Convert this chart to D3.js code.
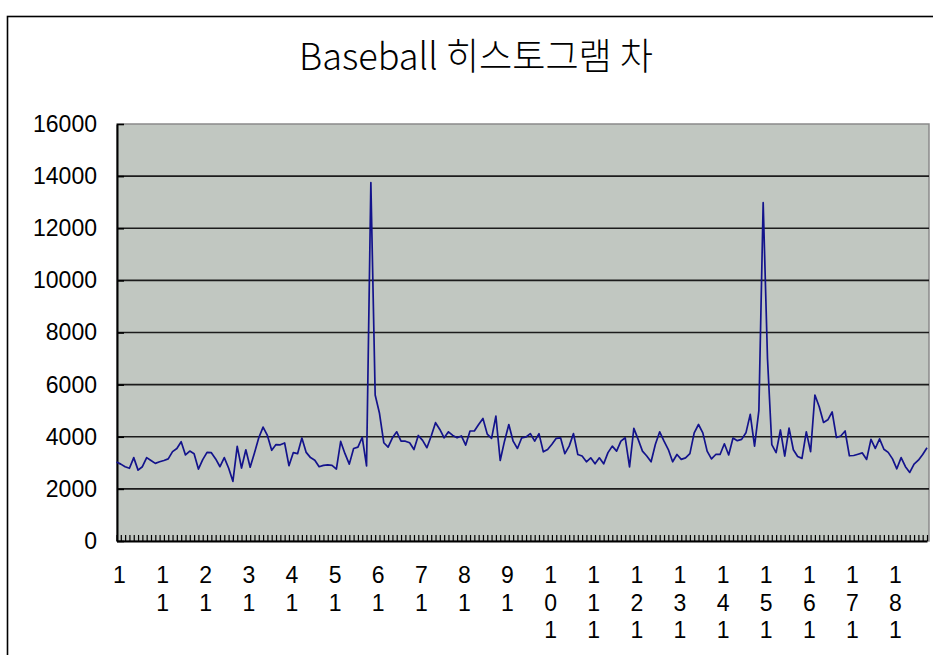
<!DOCTYPE html>
<html>
<head>
<meta charset="utf-8">
<style>
  body { margin: 0; background: #fff; }
  text { font-family: "Liberation Sans", Arial, sans-serif; fill: #000; }
</style>
</head>
<body>
<svg width="933" height="655"></svg>
<script src="https://cdnjs.cloudflare.com/ajax/libs/d3/7.8.5/d3.min.js"></script>
<script>

var title = "Baseball 히스토그램 차";

var yTicks = [0, 2000, 4000, 6000, 8000, 10000, 12000, 14000, 16000];

var xLabels = ["1", "11", "21", "31", "41", "51", "61", "71", "81", "91",
  "101", "111", "121", "131", "141", "151", "161", "171", "181"];

var values = [
  3030, 2950, 2850, 2790, 3200, 2720, 2850, 3200, 3090, 2980,
  3040, 3090, 3150, 3430, 3550, 3810, 3300, 3450, 3350, 2760,
  3120, 3400, 3390, 3150, 2850, 3200, 2800, 2290, 3630, 2800,
  3500, 2830, 3380, 3960, 4370, 4050, 3480, 3700, 3690, 3760,
  2890, 3390, 3350, 3950, 3400, 3200, 3100, 2850, 2900, 2920,
  2900, 2760, 3820, 3350, 2950, 3550, 3600, 3980, 2880, 13750,
  5600, 4900, 3770, 3600, 3960, 4190, 3830, 3830, 3770, 3510,
  4050, 3860, 3580, 4030, 4540, 4280, 3960, 4190, 4050, 3960,
  4030, 3680, 4220, 4220, 4470, 4700, 4100, 3940, 4790, 3090,
  3830, 4470, 3830, 3550, 3960, 3990, 4120, 3830, 4120, 3420,
  3510, 3710, 3940, 3960, 3350, 3640, 4120, 3320, 3260, 3040,
  3190, 2960, 3190, 2960, 3390, 3640, 3450, 3830, 3960, 2840,
  4320, 3900, 3450, 3260, 3040, 3710, 4190, 3830, 3510, 3040,
  3320, 3130, 3190, 3350, 4150, 4470, 4150, 3450, 3150, 3320,
  3320, 3730, 3300, 3950, 3850, 3900, 4150, 4860, 3640, 5000,
  12980, 7000, 3700, 3390, 4260, 3260, 4330, 3500, 3240, 3170,
  4190, 3430, 5600, 5150, 4550, 4650, 4950, 3970, 4030, 4220,
  3270, 3280, 3330, 3380, 3130, 3900, 3550, 3920, 3520, 3400,
  3150, 2770, 3200, 2850, 2630, 2950, 3100, 3320, 3580
];

var cats = values.map(function(d, i) { return String(i + 1); });

var svg = d3.select("svg");

var plot = {left: 117, top: 124, right: 929, bottom: 541};

// chart area border (right and bottom edges fall outside the picture)
svg.append("rect")
  .attr("x", 7.5).attr("y", 16.5)
  .attr("width", 1000).attr("height", 1000)
  .attr("fill", "#fff")
  .attr("stroke", "#000")
  .attr("stroke-width", 1.6);

svg.append("text")
  .attr("x", 476)
  .attr("y", 70)
  .attr("text-anchor", "middle")
  .attr("textLength", 354)
  .attr("lengthAdjust", "spacingAndGlyphs")
  .style("font-family", "'Noto Sans CJK KR', sans-serif")
  .style("font-weight", 300)
  .style("font-size", "37px")
  .text(title);

var x = d3.scalePoint()
  .domain(cats)
  .range([plot.left - 0.5, plot.right - 2]);

var y = d3.scaleLinear()
  .domain([0, 16000])
  .range([plot.bottom, plot.top]);

svg.append("rect")
  .attr("x", plot.left).attr("y", plot.top)
  .attr("width", plot.right - plot.left)
  .attr("height", plot.bottom - plot.top)
  .attr("fill", "#c1c7c1")
  .attr("stroke", "#8a8a8a")
  .attr("stroke-width", 1.5);

// gridlines
svg.append("g")
  .selectAll("line")
  .data(yTicks.filter(function(d) { return d > 0 && d < 16000; }))
  .enter().append("line")
  .attr("x1", plot.left).attr("x2", plot.right)
  .attr("y1", function(d) { return y(d); })
  .attr("y2", function(d) { return y(d); })
  .attr("stroke", "#1c1c1c")
  .attr("stroke-width", 1.7);

// y axis
var gy = svg.append("g")
  .attr("transform", "translate(" + plot.left + ",0)")
  .call(d3.axisLeft(y).tickValues(yTicks).tickFormat(d3.format("d"))
    .tickSize(-7).tickSizeOuter(0).tickPadding(20));
gy.select(".domain").attr("stroke", "#000").attr("stroke-width", 2);
gy.selectAll(".tick line").attr("stroke", "#000").attr("stroke-width", 1.6);
gy.selectAll(".tick text")
  .style("font-family", "'Liberation Sans', Arial, sans-serif")
  .style("font-size", "23px");

// x axis: a tick on every category, labels drawn below
var gx = svg.append("g")
  .attr("transform", "translate(0," + plot.bottom + ")")
  .call(d3.axisBottom(x).tickSize(-6).tickSizeOuter(0).tickFormat(""));
gx.select(".domain").attr("stroke", "#000").attr("stroke-width", 2);
gx.selectAll(".tick line").attr("stroke", "#000").attr("stroke-width", 1.2);

var lab = svg.append("g")
  .selectAll("text")
  .data(xLabels)
  .enter().append("text")
  .attr("text-anchor", "middle")
  .style("font-size", "23px")
  .attr("transform", function(d) { return "translate(" + (x(d) + 3) + ",583)"; });

lab.selectAll("tspan")
  .data(function(d) { return d.split(""); })
  .enter().append("tspan")
  .attr("x", 0)
  .attr("y", function(d, i) { return i * 27.5; })
  .text(function(d) { return d; });

var line = d3.line()
  .x(function(d, i) { return x(cats[i]); })
  .y(function(d) { return y(d); });

svg.append("path")
  .datum(values)
  .attr("fill", "none")
  .attr("stroke", "#13138c")
  .attr("stroke-width", 1.7)
  .attr("stroke-linejoin", "round")
  .attr("d", line);

</script>
</body>
</html>
